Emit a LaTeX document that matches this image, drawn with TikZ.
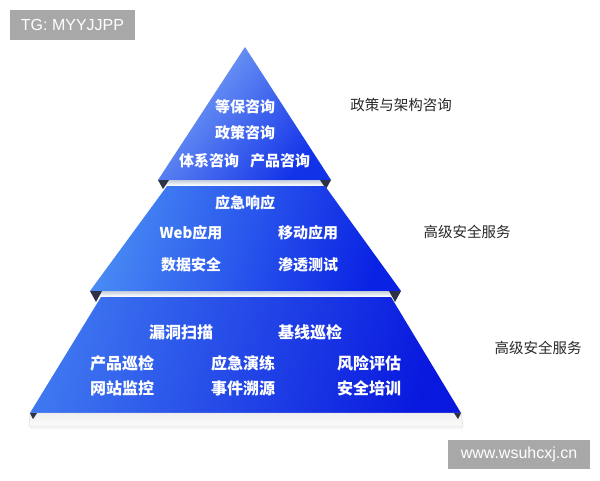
\documentclass[tikz,border=0pt]{standalone}
\usepackage{fontspec}
\setmainfont{Liberation Sans}
\newfontfamily\cjk{Noto Sans CJK SC}
\definecolor{bOneL}{RGB}{125,168,246}
\definecolor{bOneR}{RGB}{18,50,232}
\definecolor{bTwoL}{RGB}{72,138,244}
\definecolor{bTwoR}{RGB}{10,34,228}
\definecolor{bThrL}{RGB}{62,118,240}
\definecolor{bThrR}{RGB}{8,24,222}
\definecolor{darkside}{RGB}{45,50,70}
\definecolor{stripTop}{RGB}{200,208,222}
\definecolor{tagGray}{RGB}{168,168,168}
\definecolor{sideText}{RGB}{40,40,40}
\begin{document}
\begin{tikzpicture}[x=1pt,y=-1pt,
  tiertext/.style={text=white,font=\cjk\bfseries\fontsize{15}{15}\selectfont,inner sep=0},
  tiertextb/.style={text=white,font=\cjk\bfseries\fontsize{16}{16}\selectfont,inner sep=0},
  sidelabel/.style={text=sideText,font=\cjk\fontsize{14.5}{15}\selectfont,inner sep=0},
  tagbox/.style={fill=tagGray,text=white,font=\fontsize{16}{16}\selectfont,inner sep=0,minimum height=30},
  darkcorner/.style={fill=darkside},
  strip/.style={top color=stripTop,bottom color=white}
]
\useasboundingbox[fill=white] (0,0) rectangle (600,480);

% tags
\node[tagbox,minimum width=125] (tg) at (72.5,25) {TG: MYYJJPP};
\node[tagbox,minimum width=142,minimum height=29] (www) at (519,454.5) {www.wsuhcxj.cn};

% tier 1
\path[left color=bOneL,right color=bOneR,shading angle=50] (245,47) -- (331,180) -- (158,180) -- cycle;
\path[strip] (166,180.5) -- (323,180.5) -- (323,185.5) -- (166,185.5) -- cycle;
\fill[darkcorner] (158,180) -- (169,180) -- (163,189) -- cycle;
\fill[darkcorner] (331,180) -- (320,180) -- (326,189) -- cycle;

% tier 2
\path[left color=bTwoL,right color=bTwoR,shading angle=75] (167,186) -- (325,186) -- (401,291) -- (90,291) -- cycle;
\path[strip] (100,291.5) -- (391,291.5) -- (391,296.5) -- (100,296.5) -- cycle;
\fill[darkcorner] (90,291) -- (102,291) -- (96,302) -- cycle;
\fill[darkcorner] (401,291) -- (389,291) -- (395,302) -- cycle;

% tier 3
\path[left color=bThrL,right color=bThrR,shading angle=75] (101,297) -- (391,297) -- (461,413) -- (30,413) -- cycle;
\path[top color=gray!12,bottom color=gray!3,draw=gray!25,line width=0.5] (30,413) -- (461,413) -- (463,426) -- (29,426) -- cycle;
\path[top color=gray!12,bottom color=white] (30,426.3) -- (463,426.3) -- (463,430) -- (30,430) -- cycle;
\fill[darkcorner] (30,413) -- (37,413) -- (33,419) -- cycle;
\fill[darkcorner] (461,413) -- (454,413) -- (458,419) -- cycle;

% tier 1 text
\node[tiertext] (t1a) at (245,107) {等保咨询};
\node[tiertext] (t1b) at (245,133) {政策咨询};
\node[tiertext] (t1c) at (209,161) {体系咨询};
\node[tiertext] (t1d) at (280,161) {产品咨询};

% tier 2 text
\node[tiertext] (t2a) at (245,203) {应急响应};
\node[tiertext] (t2b) at (191,233) {Web应用};
\node[tiertext] (t2c) at (308,233) {移动应用};
\node[tiertext] (t2d) at (191,265) {数据安全};
\node[tiertext] (t2e) at (308,265) {渗透测试};

% tier 3 text
\node[tiertextb] (t3a) at (181,332) {漏洞扫描};
\node[tiertextb] (t3b) at (310,332) {基线巡检};
\node[tiertextb] (t3c) at (122,363) {产品巡检};
\node[tiertextb] (t3d) at (122,388) {网站监控};
\node[tiertextb] (t3e) at (243,363) {应急演练};
\node[tiertextb] (t3f) at (243,388) {事件溯源};
\node[tiertextb] (t3g) at (369,363) {风险评估};
\node[tiertextb] (t3h) at (369,388) {安全培训};

% side labels
\node[sidelabel] (s1) at (401,105) {政策与架构咨询};
\node[sidelabel] (s2) at (467,232) {高级安全服务};
\node[sidelabel] (s3) at (538,348) {高级安全服务};
\end{tikzpicture}
\end{document}
